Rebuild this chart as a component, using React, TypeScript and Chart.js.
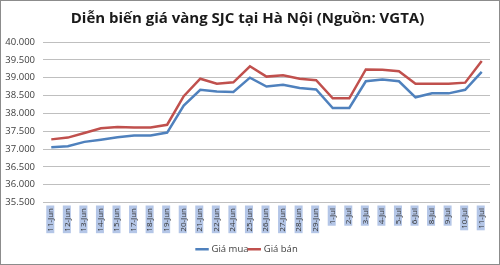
import React, { useEffect, useRef } from "react";
import { Chart, registerables } from "chart.js";

Chart.register(...registerables);

const categories = [
  "11-Jun", "12-Jun", "13-Jun", "14-Jun", "15-Jun", "17-Jun", "18-Jun", "19-Jun",
  "20-Jun", "21-Jun", "22-Jun", "24-Jun", "25-Jun", "26-Jun", "27-Jun", "28-Jun",
  "29-Jun", "1-Jul", "2-Jul", "3-Jul", "4-Jul", "5-Jul", "6-Jul", "8-Jul", "9-Jul",
  "10-Jul", "11-Jul",
];

const giaMua = [
  37050, 37080, 37200, 37260, 37330, 37380, 37380, 37460, 38220, 38660, 38610,
  38600, 39000, 38750, 38800, 38710, 38670, 38150, 38150, 38900, 38950, 38900,
  38450, 38560, 38560, 38660, 39160,
];

const giaBan = [
  37270, 37320, 37450, 37580, 37620, 37600, 37600, 37680, 38480, 38970, 38830,
  38870, 39320, 39030, 39070, 38970, 38930, 38420, 38420, 39230, 39220, 39180,
  38830, 38830, 38830, 38860, 39470,
];

const seriesNames = ["Giá mua", "Giá bán"];
const titleText = "Diễn biến giá vàng SJC tại Hà Nội (Nguồn: VGTA)";
const yMin = 35500;
const yMax = 40000;
const yStep = 500;

function fmt(v: number): string {
  const s = Math.round(v).toString();
  return s.replace(/\B(?=(\d{3})+(?!\d))/g, ".");
}

const xLabelPlugin = {
  id: "xLabelBoxes",
  afterDraw(chart: any) {
    const ctx = chart.ctx as CanvasRenderingContext2D;
    const xs = chart.scales.x;
    const bottom = chart.chartArea.bottom;
    ctx.save();
    ctx.font = "8px 'Open Sans'";
    const labels = chart.data.labels as string[];
    labels.forEach((lab, i) => {
      const x = xs.getPixelForTick(i) - 1;
      const w = ctx.measureText(lab).width;
      ctx.save();
      ctx.translate(x, bottom + 4);
      ctx.rotate(-Math.PI / 2);
      ctx.fillStyle = "#B4C6E7";
      ctx.fillRect(-w - 3, -4, w + 4, 8);
      ctx.fillStyle = "#333333";
      ctx.textAlign = "right";
      ctx.textBaseline = "middle";
      ctx.fillText(lab, -1.5, 0.5);
      ctx.restore();
    });
    ctx.restore();
  },
};

export default function App() {
  const ref = useRef<HTMLCanvasElement | null>(null);

  useEffect(() => {
    document.body.style.margin = "0";
    if (!ref.current) return;
    const chart = new Chart(ref.current, {
      type: "line",
      data: {
        labels: categories,
        datasets: [
          {
            label: seriesNames[0],
            data: giaMua,
            borderColor: "#4F81BD",
            backgroundColor: "#4F81BD",
            borderWidth: 2.5,
            pointRadius: 0,
            tension: 0,
          },
          {
            label: seriesNames[1],
            data: giaBan,
            borderColor: "#C0504D",
            backgroundColor: "#C0504D",
            borderWidth: 2.5,
            pointRadius: 0,
            tension: 0,
          },
        ],
      },
      options: {
        animation: false,
        responsive: true,
        maintainAspectRatio: false,
        layout: { padding: { left: 4, right: 9, top: 2, bottom: 0 } },
        plugins: {
          title: {
            display: true,
            text: titleText,
            color: "#1a1a1a",
            font: { family: "Open Sans", size: 15, weight: "bold" },
            padding: { top: 7, bottom: 14 },
          },
          legend: {
            position: "bottom",
            labels: {
              usePointStyle: true,
              pointStyle: "line",
              boxWidth: 20,
              color: "#404040",
              font: { family: "Open Sans", size: 9.5 },
              padding: 1,
            },
          },
          tooltip: { enabled: false },
        },
        scales: {
          x: {
            offset: true,
            grid: { display: false },
            border: { display: false },
            afterFit: (s: any) => {
              s.height = 41;
            },
            ticks: {
              autoSkip: false,
              maxRotation: 90,
              minRotation: 90,
              color: "rgba(0,0,0,0)",
              font: { family: "Open Sans", size: 8 },
              padding: 4,
            },
          },
          y: {
            min: yMin,
            max: yMax,
            border: { display: false },
            grid: { color: "#BFBFBF", drawTicks: false, lineWidth: 1 },
            afterFit: (s: any) => {
              s.width = 38;
            },
            ticks: {
              stepSize: yStep,
              color: "#404040",
              font: { family: "Open Sans", size: 9.5 },
              padding: 8,
              callback: (v) => fmt(Number(v)),
            },
          },
        },
      },
      plugins: [xLabelPlugin],
    });
    return () => chart.destroy();
  }, []);

  return (
    <div
      style={{
        width: 500,
        height: 265,
        border: "1px solid #8c8c8c",
        boxSizing: "border-box",
        background: "#fff",
        position: "relative",
      }}
    >
      <canvas ref={ref} />
    </div>
  );
}
